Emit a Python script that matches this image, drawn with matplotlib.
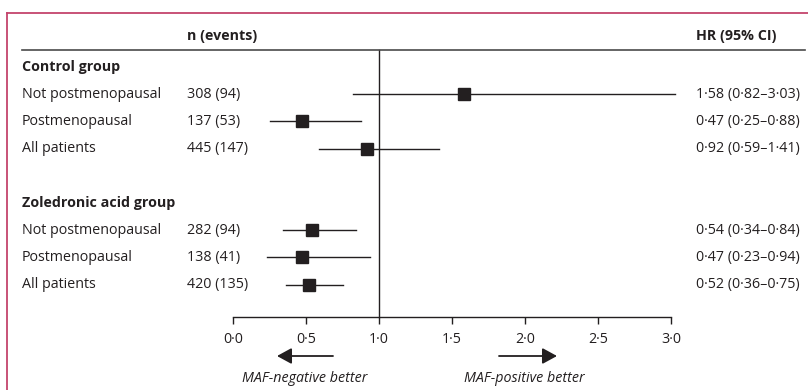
import matplotlib
matplotlib.use("Agg")
import matplotlib.pyplot as plt
from matplotlib.lines import Line2D
from matplotlib.transforms import blended_transform_factory

plt.rcParams['font.family'] = ['Open Sans', 'DejaVu Sans']

# ---- data ----
groups = ["Control group", "Zoledronic acid group"]
subgroups = ["Not postmenopausal", "Postmenopausal", "All patients"]
n_events = [["308 (94)", "137 (53)", "445 (147)"],
            ["282 (94)", "138 (41)", "420 (135)"]]
hr = [[1.58, 0.47, 0.92], [0.54, 0.47, 0.52]]
ci_low = [[0.82, 0.25, 0.59], [0.34, 0.23, 0.36]]
ci_high = [[3.03, 0.88, 1.41], [0.84, 0.94, 0.75]]
xticks = [0.0, 0.5, 1.0, 1.5, 2.0, 2.5, 3.0]
xtick_labels = ["0·0", "0·5", "1·0", "1·5", "2·0", "2·5", "3·0"]

W, H = 808, 390
fig = plt.figure(figsize=(W / 100, H / 100), dpi=100)
ax = fig.add_axes([0, 0, 1, 1])

px_per_unit = 146.0
x0_px = 233.0
ax.set_xlim(-x0_px / px_per_unit, (W - x0_px) / px_per_unit)
row_h = 27.2
top_px = 67.0
ax.set_ylim((H - top_px) / row_h, -top_px / row_h)


def fx(px):  # figure-fraction x from pixel
    return px / W


tr = blended_transform_factory(fig.transFigure, ax.transData)

ink = "#231f20"
fs = 10.3

# border
fig.add_artist(Line2D([fx(7), fx(7)], [0, 1 - 13 / H], transform=fig.transFigure,
                      color="#c4446c", lw=1.3))
fig.add_artist(Line2D([fx(7), 1], [1 - 13 / H, 1 - 13 / H], transform=fig.transFigure,
                      color="#c4446c", lw=1.3))

# headers
header_y = (36 - top_px) / row_h
ax.text(fx(222), header_y, "n (events)", transform=tr, ha="center", va="center",
        fontsize=fs, fontweight="bold", color=ink)
ax.text(fx(696), header_y, "HR (95% CI)", transform=tr, ha="left", va="center",
        fontsize=fs, fontweight="bold", color=ink)
line_y = (50 - top_px) / row_h
ax.add_line(Line2D([fx(22), fx(805)], [line_y, line_y], transform=tr, color="#4a4a4a", lw=1.2))

axis_y = (317 - top_px) / row_h

# reference line at 1
ax.plot([1, 1], [line_y, axis_y], color=ink, lw=1.0, zorder=1)

k = 0
for gi, g in enumerate(groups):
    ax.text(fx(22), k, g, transform=tr, ha="left", va="center", fontsize=fs,
            fontweight="bold", color=ink)
    k += 1
    for si, s in enumerate(subgroups):
        ax.text(fx(22), k, s, transform=tr, ha="left", va="center", fontsize=fs, color=ink)
        ax.text(fx(187), k, n_events[gi][si], transform=tr, ha="left", va="center",
                fontsize=fs, color=ink)
        ax.plot([ci_low[gi][si], ci_high[gi][si]], [k, k], color=ink, lw=1.0, zorder=2)
        ax.plot([hr[gi][si]], [k], marker="s", ms=8.4, color=ink, mec=ink, zorder=3)
        label = "{} ({}–{})".format(f"{hr[gi][si]:.2f}".replace(".", "·"),
                                     f"{ci_low[gi][si]:.2f}".replace(".", "·"),
                                     f"{ci_high[gi][si]:.2f}".replace(".", "·"))
        ax.text(fx(696), k, label, transform=tr, ha="left", va="center", fontsize=fs, color=ink)
        k += 1
    k += 1

# axis
for sp in ["top", "right", "left"]:
    ax.spines[sp].set_visible(False)
ax.spines["bottom"].set_position(("data", axis_y))
ax.spines["bottom"].set_bounds(0, 3)
ax.spines["bottom"].set_color(ink)
ax.spines["bottom"].set_linewidth(1.0)
ax.set_xticks(xticks)
ax.set_xticklabels(xtick_labels)
ax.tick_params(axis="x", direction="out", length=5, width=1.0, color=ink,
               labelsize=fs, labelcolor=ink, pad=6)
ax.set_yticks([])
ax.patch.set_visible(False)

# arrows
arr_y = (356 - top_px) / row_h
ax.annotate("", xy=((277 - x0_px) / px_per_unit, arr_y), xytext=((333 - x0_px) / px_per_unit, arr_y),
            arrowprops=dict(arrowstyle="-|>,head_length=0.55,head_width=0.3", color=ink,
                            lw=1.3, mutation_scale=16, shrinkA=0, shrinkB=0))
ax.annotate("", xy=((557 - x0_px) / px_per_unit, arr_y), xytext=((499 - x0_px) / px_per_unit, arr_y),
            arrowprops=dict(arrowstyle="-|>,head_length=0.55,head_width=0.3", color=ink,
                            lw=1.3, mutation_scale=16, shrinkA=0, shrinkB=0))
lab_y = (378 - top_px) / row_h
ax.text((305 - x0_px) / px_per_unit, lab_y, "MAF-negative better", ha="center", va="center",
        fontsize=fs, color=ink, style="italic")
ax.text((524 - x0_px) / px_per_unit, lab_y, "MAF-positive better", ha="center", va="center",
        fontsize=fs, color=ink, style="italic")

fig.savefig("out.png", dpi=100)
